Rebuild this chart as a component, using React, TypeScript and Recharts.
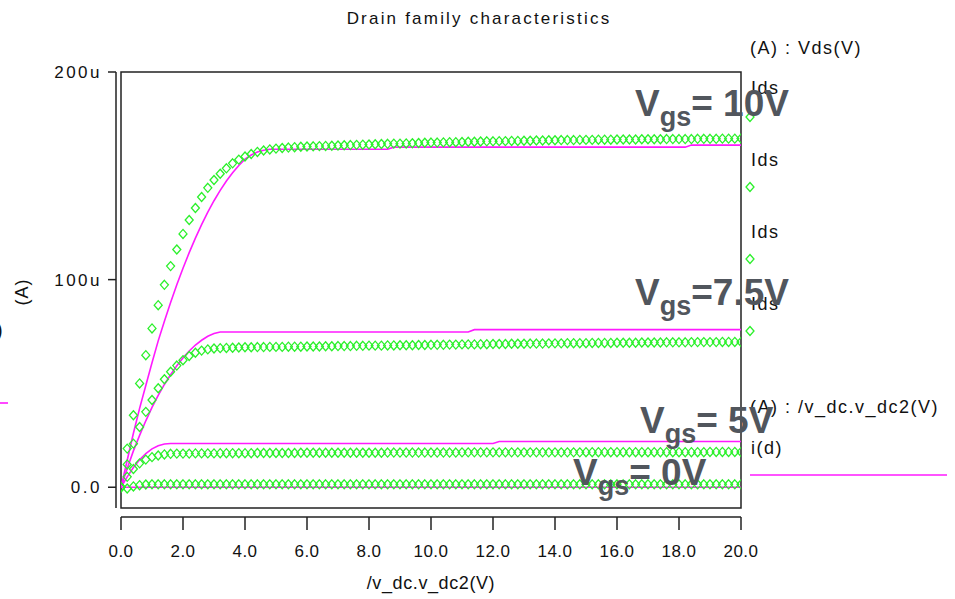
import React from "react";
import { LineChart, Line, XAxis, YAxis, ReferenceArea } from "recharts";

// drain voltage sweep (V)
const vds = [
  0, 0.2, 0.4, 0.6, 0.8, 1.0, 1.2, 1.4, 1.6, 1.8,
  2.0, 2.2, 2.4, 2.6, 2.8, 3.0, 3.2, 3.4, 3.6, 3.8,
  4.0, 4.2, 4.4, 4.6, 4.8, 5.0, 5.2, 5.4, 5.6, 5.8,
  6.0, 6.2, 6.4, 6.6, 6.8, 7.0, 7.2, 7.4, 7.6, 7.8,
  8.0, 8.2, 8.4, 8.6, 8.8, 9.0, 9.2, 9.4, 9.6, 9.8,
  10.0, 10.2, 10.4, 10.6, 10.8, 11.0, 11.2, 11.4, 11.6, 11.8,
  12.0, 12.2, 12.4, 12.6, 12.8, 13.0, 13.2, 13.4, 13.6, 13.8,
  14.0, 14.2, 14.4, 14.6, 14.8, 15.0, 15.2, 15.4, 15.6, 15.8,
  16.0, 16.2, 16.4, 16.6, 16.8, 17.0, 17.2, 17.4, 17.6, 17.8,
  18.0, 18.2, 18.4, 18.6, 18.8, 19.0, 19.2, 19.4, 19.6, 19.8,
  20.0,
];

// Ids markers (uA), one list per gate voltage
const idsVgs10 = [
  0, 18.6, 34.7, 50.0, 63.6, 76.5, 87.7, 97.5, 106.5, 114.5,
  122.0, 128.7, 134.5, 139.8, 144.2, 148.0, 151.0, 153.6, 156.0, 157.8,
  159.3, 160.5, 161.5, 162.2, 162.7, 163.1, 163.4, 163.6, 163.8, 164.0,
  164.1, 164.2, 164.3, 164.4, 164.5, 164.6, 164.7, 164.8, 164.9, 165.0,
  165.1, 165.2, 165.3, 165.4, 165.5, 165.5, 165.6, 165.7, 165.8, 165.9,
  166.0, 166.0, 166.1, 166.2, 166.2, 166.3, 166.4, 166.4, 166.5, 166.6,
  166.6, 166.7, 166.7, 166.8, 166.8, 166.9, 166.9, 167.0, 167.0, 167.1,
  167.1, 167.2, 167.2, 167.2, 167.3, 167.3, 167.3, 167.4, 167.4, 167.4,
  167.5, 167.5, 167.5, 167.5, 167.6, 167.6, 167.6, 167.6, 167.7, 167.7,
  167.7, 167.7, 167.7, 167.8, 167.8, 167.8, 167.8, 167.9, 167.9, 167.9,
  168.0,
];
const idsVgs75 = [
  0, 11, 21, 29, 36.3, 42, 47.7, 52, 55.6, 58.6,
  61.2, 63.2, 64.8, 65.8, 66.4, 66.8, 67.0, 67.1, 67.2, 67.3,
  67.4, 67.4, 67.5, 67.5, 67.6, 67.6, 67.6, 67.7, 67.7, 67.7,
  67.8, 67.8, 67.8, 67.9, 67.9, 68.0, 68.0, 68.0, 68.1, 68.1,
  68.2, 68.2, 68.2, 68.3, 68.3, 68.4, 68.4, 68.4, 68.5, 68.5,
  68.6, 68.6, 68.6, 68.7, 68.7, 68.8, 68.8, 68.8, 68.9, 68.9,
  69.0, 69.0, 69.0, 69.1, 69.1, 69.1, 69.2, 69.2, 69.2, 69.3,
  69.3, 69.3, 69.4, 69.4, 69.4, 69.4, 69.5, 69.5, 69.5, 69.5,
  69.6, 69.6, 69.6, 69.6, 69.7, 69.7, 69.7, 69.7, 69.8, 69.8,
  69.8, 69.8, 69.9, 69.9, 69.9, 69.9, 69.9, 70.0, 70.0, 70.0,
  70.0,
];
const idsVgs5 = [
  0, 5, 8.8, 11.5, 13.3, 14.5, 15.3, 15.8, 16.1, 16.2,
  16.2, 16.2, 16.3, 16.3, 16.3, 16.3, 16.4, 16.4, 16.4, 16.4,
  16.4, 16.4, 16.5, 16.5, 16.5, 16.5, 16.5, 16.5, 16.5, 16.6,
  16.6, 16.6, 16.6, 16.6, 16.6, 16.6, 16.6, 16.6, 16.6, 16.6,
  16.6, 16.6, 16.6, 16.7, 16.7, 16.7, 16.7, 16.7, 16.7, 16.7,
  16.7, 16.7, 16.7, 16.7, 16.7, 16.8, 16.8, 16.8, 16.8, 16.8,
  16.8, 16.8, 16.8, 16.8, 16.8, 16.8, 16.8, 16.8, 16.8, 16.8,
  16.8, 16.8, 16.8, 16.8, 16.8, 16.9, 16.9, 16.9, 16.9, 16.9,
  16.9, 16.9, 16.9, 16.9, 16.9, 16.9, 16.9, 16.9, 16.9, 16.9,
  16.9, 16.9, 16.9, 16.9, 16.9, 17.0, 17.0, 17.0, 17.0, 17.0,
  17.0,
];
const idsVgs0 = [
  0, -0.6, 0.4, 1.0, 1.3, 1.4, 1.4, 1.4, 1.4, 1.4,
  1.4, 1.4, 1.4, 1.4, 1.4, 1.4, 1.4, 1.4, 1.4, 1.4,
  1.4, 1.4, 1.4, 1.4, 1.4, 1.4, 1.4, 1.4, 1.4, 1.4,
  1.4, 1.4, 1.4, 1.4, 1.4, 1.4, 1.4, 1.4, 1.4, 1.4,
  1.4, 1.4, 1.4, 1.4, 1.4, 1.4, 1.4, 1.4, 1.4, 1.4,
  1.4, 1.4, 1.4, 1.4, 1.4, 1.4, 1.4, 1.4, 1.4, 1.4,
  1.4, 1.4, 1.4, 1.4, 1.4, 1.4, 1.4, 1.4, 1.4, 1.4,
  1.4, 1.4, 1.4, 1.4, 1.4, 1.4, 1.4, 1.4, 1.4, 1.4,
  1.4, 1.4, 1.4, 1.4, 1.4, 1.4, 1.4, 1.4, 1.4, 1.4,
  1.4, 1.4, 1.4, 1.4, 1.4, 1.4, 1.4, 1.4, 1.4, 1.4,
  1.4,
];

// i(d) traces (uA)
const idVgs10 = [
  0, 13, 26, 38, 49, 60, 70.5, 80, 89, 97.5,
  105.5, 113, 120, 126.5, 132.5, 138, 143, 147.5, 151.5, 155,
  158, 160, 161.5, 162.3, 162.8, 162.8, 162.8, 162.8, 162.8, 162.8,
  162.8, 162.8, 162.8, 162.8, 162.8, 162.8, 162.8, 162.8, 162.8, 162.8,
  162.8, 162.8, 162.8, 162.8, 163.8, 163.8, 163.8, 163.8, 163.8, 163.8,
  163.8, 163.8, 163.8, 163.8, 163.8, 163.8, 163.8, 163.8, 163.8, 163.8,
  163.8, 163.8, 163.8, 163.8, 163.8, 163.8, 163.8, 163.8, 163.8, 163.8,
  163.8, 163.8, 163.8, 163.8, 163.8, 163.8, 163.8, 163.8, 163.8, 163.8,
  163.8, 163.8, 163.8, 163.8, 163.8, 163.8, 163.8, 163.8, 163.8, 163.8,
  163.8, 163.8, 164.8, 164.8, 164.8, 164.8, 164.8, 164.8, 164.8, 164.8,
  164.8,
];
const idVgs75 = [
  0, 9, 17.5, 25, 32, 38.5, 44.2, 49.5, 54.2, 58.5,
  62.3, 65.6, 68.5, 70.8, 72.7, 74, 74.8, 74.8, 74.8, 74.8,
  74.8, 74.8, 74.8, 74.8, 74.8, 74.8, 74.8, 74.8, 74.8, 74.8,
  74.8, 74.8, 74.8, 74.8, 74.8, 74.8, 74.8, 74.8, 74.8, 74.8,
  74.8, 74.8, 74.8, 74.8, 74.8, 74.8, 74.8, 74.8, 74.8, 74.8,
  74.8, 74.8, 74.8, 74.8, 74.8, 74.8, 74.8, 75.9, 75.9, 75.9,
  75.9, 75.9, 75.9, 75.9, 75.9, 75.9, 75.9, 75.9, 75.9, 75.9,
  75.9, 75.9, 75.9, 75.9, 75.9, 75.9, 75.9, 75.9, 75.9, 75.9,
  75.9, 75.9, 75.9, 75.9, 75.9, 75.9, 75.9, 75.9, 75.9, 75.9,
  75.9, 75.9, 75.9, 75.9, 75.9, 75.9, 75.9, 75.9, 75.9, 75.9,
  75.9,
];
const idVgs5 = [
  0, 5, 9.5, 13.2, 16.2, 18.5, 20, 20.8, 21.1, 21.1,
  21.1, 21.1, 21.1, 21.1, 21.1, 21.1, 21.1, 21.1, 21.1, 21.1,
  21.1, 21.1, 21.1, 21.1, 21.1, 21.1, 21.1, 21.1, 21.1, 21.1,
  21.1, 21.1, 21.1, 21.1, 21.1, 21.1, 21.1, 21.1, 21.1, 21.1,
  21.1, 21.1, 21.1, 21.1, 21.1, 21.1, 21.1, 21.1, 21.1, 21.1,
  21.1, 21.1, 21.1, 21.1, 21.1, 21.1, 21.1, 21.1, 21.1, 21.1,
  21.1, 22.0, 22.0, 22.0, 22.0, 22.0, 22.0, 22.0, 22.0, 22.0,
  22.0, 22.0, 22.0, 22.0, 22.0, 22.0, 22.0, 22.0, 22.0, 22.0,
  22.0, 22.0, 22.0, 22.0, 22.0, 22.0, 22.0, 22.0, 22.0, 22.0,
  22.0, 22.0, 22.0, 22.0, 22.0, 22.0, 22.0, 22.0, 22.0, 22.0,
  22.0,
];
const idVgs0 = [
  0, 0, 0, 0, 0, 0, 0, 0, 0, 0,
  0, 0, 0, 0, 0, 0, 0, 0, 0, 0,
  0, 0, 0, 0, 0, 0, 0, 0, 0, 0,
  0, 0, 0, 0, 0, 0, 0, 0, 0, 0,
  0, 0, 0, 0, 0, 0, 0, 0, 0, 0,
  0, 0, 0, 0, 0, 0, 0, 0, 0, 0,
  0, 0, 0, 0, 0, 0, 0, 0, 0, 0,
  0, 0, 0, 0, 0, 0, 0, 0, 0, 0,
  0, 0, 0, 0, 0, 0, 0, 0, 0, 0,
  0, 0, 0, 0, 0, 0, 0, 0, 0, 0,
  0,
];

const xTicks = [0, 2, 4, 6, 8, 10, 12, 14, 16, 18, 20];
const xTickLabels = ["0.0", "2.0", "4.0", "6.0", "8.0", "10.0", "12.0", "14.0", "16.0", "18.0", "20.0"];
const yTicks = [0, 100, 200];
const yTickLabels = ["0.0", "100u", "200u"];

const rows = vds.map((v, i) => ({
  vds: v,
  s10: idsVgs10[i],
  s75: idsVgs75[i],
  s5: idsVgs5[i],
  s0: idsVgs0[i],
  d10: idVgs10[i],
  d75: idVgs75[i],
  d5: idVgs5[i],
  d0: idVgs0[i],
}));

const GREEN = "#2bf02b";
const MAGENTA = "#ff1aff";
const INK = "#111";
const LABEL = "#51565d";
const FONT = "'Liberation Sans', Arial, sans-serif";

const diamondPath = (cx: number, cy: number) =>
  `M${cx},${cy - 4.5}L${cx + 4},${cy}L${cx},${cy + 4.5}L${cx - 4},${cy}Z`;

const Diamond = (props: any) => {
  const { cx, cy, index } = props;
  if (cx == null || cy == null) return <g key={index} />;
  return <path key={index} d={diamondPath(cx, cy)} fill="none" stroke={GREEN} strokeWidth={1.3} />;
};

const XTick = (props: any) => {
  const { x, y, payload } = props;
  const i = xTicks.indexOf(payload.value);
  return (
    <text x={x} y={y} dy={12} textAnchor="middle" fill={INK} fontSize={17} fontFamily={FONT} letterSpacing={0.5}>
      {xTickLabels[i]}
    </text>
  );
};

const YTick = (props: any) => {
  const { x, y, payload } = props;
  const i = yTicks.indexOf(payload.value);
  return (
    <text x={x} y={y} dy={6} textAnchor="end" fill={INK} fontSize={17} fontFamily={FONT} letterSpacing={2.5}>
      {yTickLabels[i]}
    </text>
  );
};

// "Vgs= ..." annotation with a subscript
const VgsLabel = ({ x, y, value }: { x: number; y: number; value: string }) => (
  <text x={x} y={y} fill={LABEL} fontSize={37} fontWeight="bold" fontFamily={FONT}>
    V
    <tspan dy={10} fontSize={27}>gs</tspan>
    <tspan dy={-10}>{value}</tspan>
  </text>
);

const legendKeys = [117, 187, 259, 331];
const legendIds = [94, 166, 238, 310];

export default function App() {
  return (
    <div style={{ position: "absolute", left: 0, top: 0, width: 955, height: 599, background: "#fff" }}>
      <LineChart width={955} height={599} data={rows} margin={{ top: 72, right: 214, bottom: 51, left: 61 }}>
        <XAxis
          dataKey="vds"
          type="number"
          domain={[0, 20]}
          ticks={xTicks}
          allowDataOverflow
          height={40}
          tickSize={13}
          tickMargin={24}
          axisLine={{ stroke: "#222", strokeWidth: 1.5, transform: "translate(0, 9)" }}
          tickLine={{ stroke: "#222", strokeWidth: 1.5, transform: "translate(0, 9)" }}
          tick={<XTick />}
        />
        <YAxis
          type="number"
          domain={[-10, 200]}
          ticks={yTicks}
          allowDataOverflow
          width={60}
          tickSize={8}
          tickMargin={11}
          axisLine={{ stroke: "#222", strokeWidth: 1.5, transform: "translate(-5, 0)" }}
          tickLine={{ stroke: "#222", strokeWidth: 1.5, transform: "translate(-5, 0)" }}
          tick={<YTick />}
        />
        <ReferenceArea x1={0} x2={20} y1={-10} y2={200} fill="none" stroke="#222" strokeWidth={1.5} />
        <Line dataKey="s10" stroke="none" dot={Diamond} activeDot={false} isAnimationActive={false} />
        <Line dataKey="s75" stroke="none" dot={Diamond} activeDot={false} isAnimationActive={false} />
        <Line dataKey="s5" stroke="none" dot={Diamond} activeDot={false} isAnimationActive={false} />
        <Line dataKey="s0" stroke="none" dot={Diamond} activeDot={false} isAnimationActive={false} />
        <Line dataKey="d10" type="linear" stroke={MAGENTA} strokeWidth={1.6} dot={false} activeDot={false} isAnimationActive={false} />
        <Line dataKey="d75" type="linear" stroke={MAGENTA} strokeWidth={1.6} dot={false} activeDot={false} isAnimationActive={false} />
        <Line dataKey="d5" type="linear" stroke={MAGENTA} strokeWidth={1.6} dot={false} activeDot={false} isAnimationActive={false} />
        <Line dataKey="d0" type="linear" stroke={MAGENTA} strokeWidth={1.6} dot={false} activeDot={false} isAnimationActive={false} />
      </LineChart>

      <svg width={955} height={599} style={{ position: "absolute", left: 0, top: 0, pointerEvents: "none" }}>
        <g fontFamily={FONT} fill={INK}>
          <text x={479} y={24} textAnchor="middle" fontSize={17} letterSpacing={2.2}>
            Drain family characteristics
          </text>
          <text x={431} y={589} textAnchor="middle" fontSize={18} letterSpacing={0.6}>
            /v_dc.v_dc2(V)
          </text>
          <text x={28} y={292} textAnchor="middle" fontSize={18} letterSpacing={1} transform="rotate(-90, 28, 292)">
            (A)
          </text>
          <text x={-4} y={337} fontSize={20}>)</text>
          <line x1={0} x2={8} y1={403} y2={403} stroke={MAGENTA} strokeWidth={1.6} />

          <text x={750} y={54} fontSize={18} letterSpacing={1.5}>(A) : Vds(V)</text>
          {legendIds.map((y, i) => (
            <text key={"ids" + i} x={751} y={y} fontSize={18} letterSpacing={1.5}>Ids</text>
          ))}
          {legendKeys.map((y, i) => (
            <path key={"key" + i} d={diamondPath(750, y)} fill="none" stroke={GREEN} strokeWidth={1.3} />
          ))}
          <text x={750} y={413} fontSize={18} letterSpacing={1.5}>(A) : /v_dc.v_dc2(V)</text>
          <text x={751} y={454} fontSize={18} letterSpacing={1.5}>i(d)</text>
          <line x1={750} x2={947} y1={475} y2={475} stroke={MAGENTA} strokeWidth={1.6} />
        </g>

        <VgsLabel x={635} y={116} value="= 10V" />
        <VgsLabel x={635} y={305} value="=7.5V" />
        <VgsLabel x={640} y={433} value="= 5V" />
        <VgsLabel x={573} y={485} value="= 0V" />
      </svg>
    </div>
  );
}
